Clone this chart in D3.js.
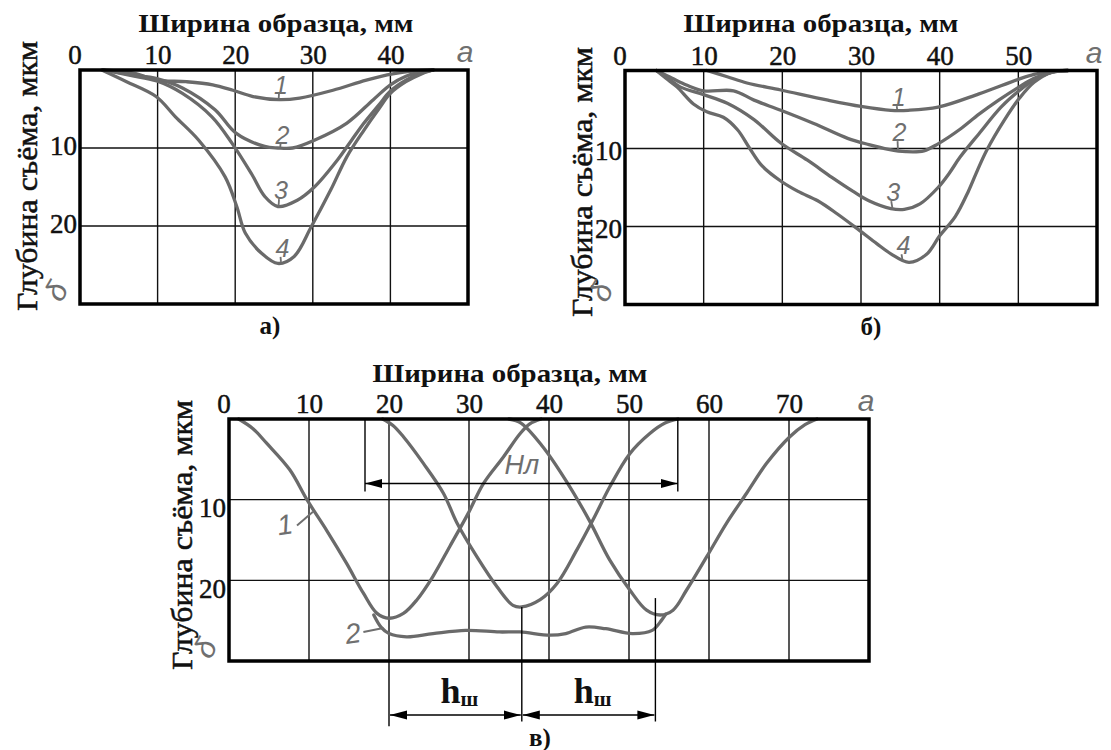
<!DOCTYPE html>
<html>
<head>
<meta charset="utf-8">
<title>Профили съёма</title>
<script src="https://d3js.org/d3.v7.min.js"></script>
<style>
    body { margin: 0; background: #fff; }
    svg { display: block; background: #fff; }
    svg text.serif, svg .tick text { font-family: "Liberation Serif", "Times New Roman", Times, serif !important; fill: #111; }
    svg .tick text, svg text.ytitle { stroke: #111; stroke-width: 0.5px; }
    svg text.hand { font-family: "Liberation Sans", "DejaVu Sans", sans-serif; font-style: italic; fill: #6f6f6f; }
</style>
</head>
<body>
<svg id="chart" width="1111" height="750"></svg>
<script>
    // ---- data (ширина, мм ; глубина, мкм) ----
    const ticksA = [0, 10, 20, 30, 40];
    const ticksB = [0, 10, 20, 30, 40, 50];
    const ticksC = [0, 10, 20, 30, 40, 50, 60, 70];
    const depthTicks = [10, 20];

    // panel а)
    const a1 = [[3,0],[6.9,0.4],[9.9,1.3],[13.7,1.5],[17.1,1.9],[19.7,2.6],[22.3,3.4],[25.7,3.8],[28.3,3.6],[32.6,2.6],[36.9,1.3],[40.3,0.5],[43,0.15],[45.5,0]];
    const a2 = [[3,0],[6.5,0.6],[9.9,1.1],[13.2,2.3],[17.4,5.1],[20.1,8.1],[23.8,9.8],[25.5,10],[27.4,10],[30.2,9],[34.4,6.8],[37.8,3.8],[40,1.9],[42,0.8],[44,0.25],[45.5,0]];
    const a3 = [[3,0],[6.5,0.7],[9.9,1.4],[13.2,3],[17,6],[19.6,9.4],[22.1,13.3],[23.8,16.2],[25.5,17.5],[28,16.7],[30.2,15],[33.2,11.5],[35,9],[36.6,6.8],[38.5,4.5],[40,2.7],[42,1.3],[44,0.4],[45.5,0]];
    const a4 = [[2.8,0],[6,1.5],[9.8,3.4],[12.3,6],[15.3,9],[18.7,13.7],[20.2,17.5],[21.3,20.9],[23.4,23.5],[25.5,24.8],[27.6,23.9],[29.8,20.1],[32.3,15.4],[34.4,11.1],[36.6,7.7],[38.5,5],[40,3],[42,1.5],[44,0.5],[45.5,0]];
    const labelsA = [
        { t: "1", x: 25.9, y: 1.9, lx: 25.6, ly: 3.7 },
        { t: "2", x: 26.1, y: 8.3, lx: 25.8, ly: 9.9 },
        { t: "3", x: 25.9, y: 15.4, lx: 25.6, ly: 17.4 },
        { t: "4", x: 26.1, y: 22.8, lx: 25.9, ly: 24.6 }
    ];

    // panel б)
    const b1 = [[10.4,0],[13,0.8],[15.5,1.6],[19.8,2.5],[25.8,3.8],[30,4.6],[33.8,5.1],[36,5.1],[39.8,4.7],[45,3],[50.1,1.1],[52,0.5],[54.3,0.1],[56.3,0]];
    const b2 = [[4,0],[6,1],[7.9,1.9],[10,2.6],[13.8,2.6],[16.4,3.8],[19.8,5.1],[24,6.8],[28.3,8.7],[31,9.5],[33.5,10.1],[35.7,10.4],[38,10.3],[39.8,9.4],[42.5,7.6],[45,5.6],[47.5,3.8],[50.1,2.1],[52,1],[54.3,0.2],[56.3,0]];
    const b3 = [[4,0],[5.5,1],[7,2.1],[10,3.1],[13,4.2],[16.4,6.3],[19.8,9.3],[23.2,11.5],[26.3,13.7],[29,15.5],[31,16.7],[33.8,17.7],[35.5,17.8],[37.5,17.1],[39.8,15],[41.2,13.2],[42.6,11.1],[45,8.1],[47.8,4.7],[50.1,2.6],[52,1.2],[54.3,0.2],[56.3,0]];
    const b4 = [[4,0],[5.2,1],[6.6,2.1],[8.7,4.3],[10.4,5.3],[12.5,6.0],[14.3,7.6],[15.8,9.9],[17.4,12.2],[19.7,14.1],[22,15.5],[24.5,16.7],[27,18.4],[29.8,20.5],[32,22.2],[33.8,23.5],[36.1,24.6],[38.3,23.6],[40,21.2],[42,18.7],[43.6,15.6],[44.8,12.8],[46,10.2],[48.2,6.4],[50.1,3.6],[52,1.5],[54.3,0.2],[56.3,0]];
    const labelsB = [
        { t: "1", x: 34.8, y: 3.4, lx: 34.6, ly: 5.0 },
        { t: "2", x: 34.9, y: 7.9, lx: 34.7, ly: 10.3 },
        { t: "3", x: 34.1, y: 15.6, lx: 34.0, ly: 17.7 },
        { t: "4", x: 35.4, y: 22.4, lx: 35.3, ly: 24.4 }
    ];

    // panel в)
    const passA = [[1.2,0],[3,1.2],[4.7,3],[7.6,6.3],[9.8,10.1],[12.2,13.8],[14.7,17.9],[16.8,21.6],[18.5,24.1],[20,24.7],[21.8,24.1],[23.5,22.4],[25.5,19.5],[27.6,15.8],[29.9,11.7],[31.8,8],[34.3,4.7],[36.4,1.8],[37.6,0.6],[39,0]];
    const passB = [[19.2,0],[20.5,0.8],[21.8,2.2],[24.3,5.5],[26.8,9.2],[28.5,12.9],[31,17.1],[33.5,20.8],[35.5,23.1],[36.6,23.3],[38.9,22.4],[41,20.4],[43.5,16.2],[45.5,12.5],[47.6,8.4],[50.1,4.3],[52.6,1.8],[54.5,0.5],[56.1,0]];
    const passC = [[35,0],[36.5,0.5],[39.2,3.4],[42.1,7.6],[45,12.5],[47.6,17.5],[50.1,21.2],[52.2,23.7],[53.9,24.3],[55.5,23.7],[57.2,21.2],[59.7,17.1],[62.2,12.9],[64.7,9.2],[67.2,5.5],[70.1,2.2],[72,0.7],[73.5,0]];
    const total = [[18.1,24.3],[19,25.8],[20,26.6],[22.2,27],[25.5,26.6],[29.6,26.2],[33.8,26.4],[36.4,26.4],[40.1,26.8],[42.1,26.6],[44.6,25.8],[47.1,26],[50.4,26.6],[52.9,26.2],[54.1,24.9],[54.6,24.2]];
    const labelsC = [
        { t: "1", x: 7.0, y: 13.1, sx: 8.5, sy: 13.2, lx: 10.5, ly: 11.5 },
        { t: "2", x: 15.5, y: 26.6, sx: 16.8, sy: 26.4, lx: 19.3, ly: 25.9 }
    ];
    const hlSpan = [17, 56.1];          // H_л
    const hwSpans = [[20, 36.6], [36.6, 53.3]];   // h_ш
    const hwTops = [30, 23.3, 22.2];

    const svg = d3.select("#chart");

    const defs = svg.append("defs");
    defs.append("marker")
        .attr("id", "arrow")
        .attr("markerUnits", "userSpaceOnUse")
        .attr("markerWidth", 18).attr("markerHeight", 12)
        .attr("refX", 17).attr("refY", 6)
        .attr("orient", "auto-start-reverse")
        .append("path")
        .attr("d", "M0,1.5 L17,6 L0,10.5 Z")
        .attr("fill", "#000");

    const panels = [
        { xDomain: [0, 50], xRange: [80, 468], yRange: [70, 304], ticks: ticksA,
          curves: [a1, a2, a3, a4], labels: labelsA,
          title: [276, 32], yTitle: [37, 176], letter: "а)", letterPos: [270, 334], yDy: 6 },
        { xDomain: [0, 60], xRange: [625, 1097], yRange: [70.5, 304.5], ticks: ticksB,
          curves: [b1, b2, b3, b4], labels: labelsB,
          title: [821, 32], yTitle: [592, 182], letter: "б)", letterPos: [871, 335], yDy: 11 },
        { xDomain: [0, 80], xRange: [229, 869], yRange: [419, 661], ticks: ticksC,
          curves: [passA, passB, passC, total], labels: [],
          title: [510, 382], yTitle: [192, 535], letter: "в)", letterPos: [540, 746], yDy: 17 }
    ];

    function drawPanel(p) {
        const x = d3.scaleLinear().domain(p.xDomain).range(p.xRange);
        const y = d3.scaleLinear().domain([0, 30]).range(p.yRange);
        const g = svg.append("g");

        // grid
        g.selectAll(".vgrid").data(p.ticks.filter(d => d > 0)).join("line")
            .attr("x1", d => x(d)).attr("x2", d => x(d))
            .attr("y1", y(0)).attr("y2", y(30))
            .attr("stroke", "#111").attr("stroke-width", 1.4);
        g.selectAll(".hgrid").data(depthTicks).join("line")
            .attr("x1", x(p.xDomain[0])).attr("x2", x(p.xDomain[1]))
            .attr("y1", d => y(d)).attr("y2", d => y(d))
            .attr("stroke", "#111").attr("stroke-width", 1.4);

        // curves
        const line = d3.line()
            .x(d => x(d[0])).y(d => y(d[1]))
            .curve(d3.curveCatmullRom.alpha(0.5));
        g.selectAll(".curve").data(p.curves).join("path")
            .attr("d", line)
            .attr("fill", "none")
            .attr("stroke", "#6a6a6a")
            .attr("stroke-width", 3.3)
            .attr("stroke-linecap", "round")
            .attr("stroke-linejoin", "round");

        // frame
        g.append("rect")
            .attr("x", x(p.xDomain[0])).attr("y", y(0))
            .attr("width", x(p.xDomain[1]) - x(p.xDomain[0]))
            .attr("height", y(30) - y(0))
            .attr("fill", "none").attr("stroke", "#000").attr("stroke-width", 3.5);

        // tick labels
        const xAxis = g.append("g")
            .attr("transform", `translate(0,${y(0)})`)
            .call(d3.axisTop(x).tickValues(p.ticks).tickSize(0).tickPadding(6).tickFormat(d3.format("d")));
        xAxis.attr("font-family", null).attr("font-size", null);
        xAxis.select(".domain").remove();
        xAxis.selectAll("text")
            .attr("class", "serif")
            .style("font-size", "27px")
            .attr("dx", d => d === 0 ? "-0.2em" : 0);

        const yAxis = g.append("g")
            .attr("transform", `translate(${x(0)},0)`)
            .call(d3.axisLeft(y).tickValues(depthTicks).tickSize(0).tickPadding(3));
        yAxis.attr("font-family", null).attr("font-size", null);
        yAxis.select(".domain").remove();
        yAxis.selectAll("text")
            .attr("class", "serif")
            .style("font-size", "27px")
            .attr("dy", p.yDy);

        // titles
        g.append("text").attr("class", "serif")
            .attr("x", p.title[0]).attr("y", p.title[1])
            .attr("text-anchor", "middle")
            .style("font-size", "25px").style("font-weight", "bold")
            .attr("textLength", 275).attr("lengthAdjust", "spacingAndGlyphs")
            .text("Ширина образца, мм");

        g.append("text").attr("class", "serif ytitle")
            .attr("transform", `translate(${p.yTitle[0]},${p.yTitle[1]}) rotate(-90)`)
            .attr("text-anchor", "middle")
            .style("font-size", "29px")
            .attr("textLength", 270).attr("lengthAdjust", "spacingAndGlyphs")
            .text("Глубина съёма, мкм");

        g.append("text").attr("class", "serif")
            .attr("x", p.letterPos[0]).attr("y", p.letterPos[1])
            .attr("text-anchor", "middle")
            .style("font-size", "25px").style("font-weight", "bold")
            .text(p.letter);

        // axis letters a and δ
        g.append("text").attr("class", "hand")
            .attr("x", x(p.xDomain[1]) - 3).attr("y", y(0) - 8)
            .attr("text-anchor", "middle")
            .style("font-size", "30px")
            .text("a");
        g.append("text").attr("class", "hand")
            .attr("transform", `translate(${x(0) - 24},${y(30) - 13}) rotate(-60)`)
            .attr("text-anchor", "middle").attr("dominant-baseline", "central")
            .style("font-size", "30px")
            .text("δ");

        // curve numbers
        g.selectAll(".lead").data(p.labels).join("line")
            .attr("x1", d => x(d.x) - 2).attr("y1", d => y(d.y) + 9)
            .attr("x2", d => x(d.lx)).attr("y2", d => y(d.ly))
            .attr("stroke", "#6f6f6f").attr("stroke-width", 1.8);
        g.selectAll(".num").data(p.labels).join("text")
            .attr("class", "hand")
            .attr("x", d => x(d.x)).attr("y", d => y(d.y))
            .attr("text-anchor", "middle").attr("dominant-baseline", "central")
            .style("font-size", "25px")
            .text(d => d.t);

        return { x, y, g };
    }

    const res = panels.map(drawPanel);

    // annotations of panel в)
    const { x, y, g } = res[2];

    g.selectAll(".lead2").data(labelsC).join("line")
        .attr("x1", d => x(d.sx)).attr("y1", d => y(d.sy))
        .attr("x2", d => x(d.lx)).attr("y2", d => y(d.ly))
        .attr("stroke", "#6f6f6f").attr("stroke-width", 2);
    g.selectAll(".num2").data(labelsC).join("text")
        .attr("class", "hand")
        .attr("x", d => x(d.x)).attr("y", d => y(d.y))
        .attr("text-anchor", "middle").attr("dominant-baseline", "central")
        .style("font-size", "28px")
        .attr("transform", d => `rotate(-8,${x(d.x)},${y(d.y)})`)
        .text(d => d.t);

    // H_л dimension
    g.selectAll(".hlExt").data(hlSpan).join("line")
        .attr("x1", d => x(d)).attr("x2", d => x(d))
        .attr("y1", y(0)).attr("y2", y(9))
        .attr("stroke", "#000").attr("stroke-width", 1.4);
    g.append("line")
        .attr("x1", x(hlSpan[0])).attr("x2", x(hlSpan[1]))
        .attr("y1", y(8)).attr("y2", y(8))
        .attr("stroke", "#000").attr("stroke-width", 1.4)
        .attr("marker-start", "url(#arrow)").attr("marker-end", "url(#arrow)");
    g.append("text").attr("class", "hand")
        .attr("x", x(36.6)).attr("y", y(5.7))
        .attr("text-anchor", "middle").attr("dominant-baseline", "central")
        .style("font-size", "27px")
        .text("Hл");

    // h_ш dimensions
    const hwX = [hwSpans[0][0], hwSpans[0][1], hwSpans[1][1]];
    g.selectAll(".hwExt").data(hwX).join("line")
        .attr("x1", d => x(d)).attr("x2", d => x(d))
        .attr("y1", (d, i) => y(hwTops[i])).attr("y2", (d, i) => y(i === 0 ? 38.1 : 37.5))
        .attr("stroke", "#000").attr("stroke-width", 1.4);
    g.selectAll(".hwDim").data(hwSpans).join("line")
        .attr("x1", d => x(d[0]) + 1).attr("x2", d => x(d[1]) - 1)
        .attr("y1", y(36.7)).attr("y2", y(36.7))
        .attr("stroke", "#000").attr("stroke-width", 1.4)
        .attr("marker-start", "url(#arrow)").attr("marker-end", "url(#arrow)");
    const hw = g.selectAll(".hwLab").data(hwSpans).join("text")
        .attr("class", "serif")
        .attr("x", d => x((d[0] + d[1]) / 2) + 4).attr("y", y(35.2))
        .attr("text-anchor", "middle")
        .style("font-weight", "bold");
    hw.append("tspan").style("font-size", "36px").text("h");
    hw.append("tspan").style("font-size", "21px").attr("dy", 3).text("ш");
</script>
</body>
</html>
